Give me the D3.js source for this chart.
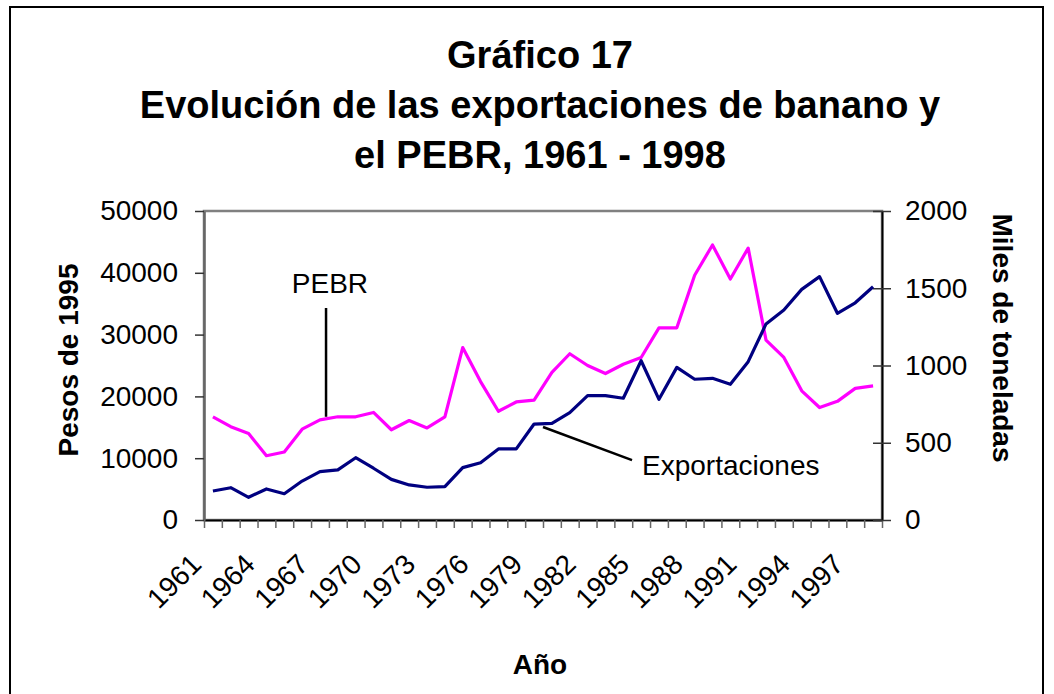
<!DOCTYPE html>
<meta charset="utf-8">
<style>
    body { margin: 0; background: #fff; }
    text { font-family: "Liberation Sans", Arial, sans-serif; fill: #000; }
    .title { font-size: 38px; font-weight: bold; }
    .axis-title { font-size: 28px; font-weight: bold; }
    .note { font-size: 28px; }
    .yearlabel { font-size: 28px; }
</style>
<svg width="1054" height="694"></svg>
<script src="https://d3js.org/d3.v7.min.js"></script>
<script>

var years = [1961, 1962, 1963, 1964, 1965, 1966, 1967, 1968, 1969, 1970,
             1971, 1972, 1973, 1974, 1975, 1976, 1977, 1978, 1979, 1980,
             1981, 1982, 1983, 1984, 1985, 1986, 1987, 1988, 1989, 1990,
             1991, 1992, 1993, 1994, 1995, 1996, 1997, 1998];

// PEBR, pesos de 1995 (eje izquierdo)
var pebr = [16700, 15100, 14000, 10400, 11000, 14700, 16200, 16700, 16700, 17400,
            14600, 16100, 14900, 16700, 27900, 22400, 17600, 19100, 19400, 23900,
            26900, 25000, 23700, 25200, 26300, 31100, 31100, 39600, 44500, 39000,
            44000, 29100, 26300, 20900, 18200, 19200, 21300, 21700];

// exportaciones, miles de toneladas (eje derecho)
var exportaciones = [188, 209, 147, 201, 170, 252, 313, 324, 403, 335,
                     263, 227, 212, 216, 339, 371, 460, 460, 621, 626,
                     695, 805, 805, 788, 1031, 781, 988, 911, 917, 878,
                     1025, 1269, 1359, 1493, 1575, 1338, 1406, 1510];

var yearLabels = [1961, 1964, 1967, 1970, 1973, 1976, 1979, 1982, 1985, 1988, 1991, 1994, 1997];
var leftTicks = [0, 10000, 20000, 30000, 40000, 50000];
var rightTicks = [0, 500, 1000, 1500, 2000];

var titleLines = ["Gráfico 17", "Evolución de las exportaciones de banano y", "el PEBR, 1961 - 1998"];

var svg = d3.select("svg"),
    plotLeft = 204, plotRight = 882, plotTop = 211, plotBottom = 520;

var x = d3.scaleLinear().domain([1960.5, 1998.5]).range([plotLeft, plotRight]);
var yL = d3.scaleLinear().domain([0, 50000]).range([plotBottom, plotTop]);
var yR = d3.scaleLinear().domain([0, 2000]).range([plotBottom, plotTop]);

// marco exterior
svg.append("rect")
    .attr("x", 10).attr("y", 7)
    .attr("width", 1033).attr("height", 720)
    .attr("fill", "none").attr("stroke", "#000").attr("stroke-width", 2);

// titulo
svg.selectAll(".title")
    .data(titleLines)
    .enter().append("text")
    .attr("class", "title")
    .attr("x", 540)
    .attr("y", function (d, i) { return 68 + i * 50; })
    .attr("text-anchor", "middle")
    .text(function (d) { return d; });

// area de trazado
svg.append("rect")
    .attr("x", plotLeft).attr("y", plotTop)
    .attr("width", plotRight - plotLeft).attr("height", plotBottom - plotTop)
    .attr("fill", "none").attr("stroke", "#808080").attr("stroke-width", 2.5);

// eje x
var boundaries = years.map(function (d) { return d - 0.5; }).concat([1998.5]);
var gx = svg.append("g")
    .attr("class", "axis axis--x")
    .attr("transform", "translate(0," + plotBottom + ")")
    .call(d3.axisBottom(x).tickValues(boundaries).tickSize(8).tickSizeOuter(0).tickFormat(""));
gx.select(".domain").attr("stroke", "#000").attr("stroke-width", 2);
gx.selectAll(".tick line").attr("stroke", "#666").attr("stroke-width", 1.5);

svg.append("g")
    .selectAll("text")
    .data(yearLabels)
    .enter().append("text")
    .attr("class", "yearlabel")
    .attr("transform", function (d) {
        return "translate(" + (x(d) - 10) + "," + 566 + ") rotate(-45)";
    })
    .attr("text-anchor", "end")
    .text(function (d) { return d; });

// eje izquierdo
var gl = svg.append("g")
    .attr("class", "axis axis--y")
    .attr("transform", "translate(" + plotLeft + ",0)")
    .call(d3.axisLeft(yL).tickValues(leftTicks).tickSize(9).tickSizeOuter(0).tickPadding(17).tickFormat(d3.format("d")));
gl.select(".domain").attr("stroke", "#666").attr("stroke-width", 2.5);
gl.selectAll(".tick line").attr("stroke", "#333").attr("stroke-width", 1.5);

// eje derecho
var gr = svg.append("g")
    .attr("class", "axis axis--y2")
    .attr("transform", "translate(" + plotRight + ",0)")
    .call(d3.axisRight(yR).tickValues(rightTicks).tickSize(9).tickSizeOuter(0).tickPadding(14).tickFormat(d3.format("d")));
gr.select(".domain").attr("stroke", "#000").attr("stroke-width", 2);
gr.selectAll(".tick line").attr("stroke", "#333").attr("stroke-width", 1.5).attr("x1", -9);

svg.selectAll(".axis text")
    .style("font-size", "28px")
    .style("font-family", "'Liberation Sans', Arial, sans-serif")
    .attr("fill", "#000");

// series
var pebrLine = d3.line()
    .x(function (d, i) { return x(years[i]); })
    .y(function (d) { return yL(d); });

var expLine = d3.line()
    .x(function (d, i) { return x(years[i]); })
    .y(function (d) { return yR(d); });

svg.append("path")
    .datum(pebr)
    .attr("fill", "none")
    .attr("stroke", "#ff00ff")
    .attr("stroke-width", 3.2)
    .attr("stroke-linejoin", "round")
    .attr("d", pebrLine);

svg.append("path")
    .datum(exportaciones)
    .attr("fill", "none")
    .attr("stroke", "#000080")
    .attr("stroke-width", 3.2)
    .attr("stroke-linejoin", "round")
    .attr("d", expLine);

// rotulos de las series
svg.append("line")
    .attr("x1", x(1967.34)).attr("y1", yL(34300))
    .attr("x2", x(1967.34)).attr("y2", yL(16700))
    .attr("stroke", "#000").attr("stroke-width", 2.5);
svg.append("text")
    .attr("class", "note")
    .attr("x", x(1967.56)).attr("y", yL(36700))
    .attr("text-anchor", "middle")
    .text("PEBR");

svg.append("line")
    .attr("x1", x(1979.5)).attr("y1", yR(602))
    .attr("x2", x(1984.49)).attr("y2", yR(388))
    .attr("stroke", "#000").attr("stroke-width", 2.5);
svg.append("text")
    .attr("class", "note")
    .attr("x", x(1985.05)).attr("y", yR(291))
    .text("Exportaciones");

// titulos de ejes
svg.append("text")
    .attr("class", "axis-title")
    .attr("transform", "translate(78,360) rotate(-90)")
    .attr("text-anchor", "middle")
    .text("Pesos de 1995");

svg.append("text")
    .attr("class", "axis-title")
    .attr("transform", "translate(993,338) rotate(90)")
    .attr("text-anchor", "middle")
    .text("Miles de toneladas");

svg.append("text")
    .attr("class", "axis-title")
    .attr("x", 540).attr("y", 674)
    .attr("text-anchor", "middle")
    .text("Año");

</script>
